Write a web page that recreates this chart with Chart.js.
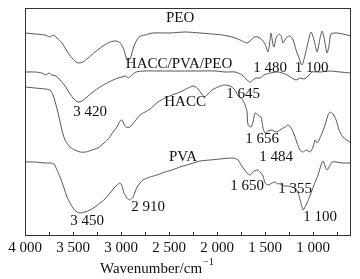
<!DOCTYPE html>
<html>
<head>
<meta charset="utf-8">
<script src="https://cdn.jsdelivr.net/npm/chart.js@4/dist/chart.umd.min.js"></script>
<style>
  body { margin: 0; background: #fff; }
  canvas { display: block; }
</style>
</head>
<body>
<canvas id="ftirChart" width="360" height="279"></canvas>
<script>
// wavenumbers (cm-1) and transmittance (a.u., curves stacked)
const peoWn = [4000, 3896, 3792, 3740, 3708, 3667, 3615, 3563, 3510, 3469, 3438, 3396, 3344, 3271, 3188, 3115, 3052, 3010, 2969, 2938, 2906, 2865, 2813, 2750, 2667, 2490, 2333, 2177, 2052, 1948, 1844, 1760, 1688, 1646, 1615, 1573, 1531, 1500, 1469, 1448, 1438, 1417, 1406, 1385, 1354, 1333, 1313, 1292, 1271, 1240, 1208, 1177, 1146, 1115, 1083, 1052, 1021, 990, 958, 927, 906, 885, 854, 833, 813, 760, 688, 605];
const peoT = [203, 202, 201, 199, 201, 198, 193, 185, 178, 174, 173, 174, 178, 184, 190, 194, 195, 193, 186, 176, 177, 190, 199, 201, 203, 203, 204, 203, 202, 201, 199, 196, 193, 196, 199, 199, 196, 192, 184, 196, 203, 191, 189, 198, 202, 200, 193, 196, 199, 200, 196, 186, 178, 171, 181, 194, 204, 196, 184, 198, 205, 198, 183, 191, 202, 203, 202, 200];

const blendWn = [4000, 3896, 3823, 3781, 3750, 3719, 3677, 3635, 3583, 3531, 3490, 3448, 3406, 3354, 3292, 3219, 3146, 3083, 3031, 2990, 2948, 2927, 2896, 2844, 2750, 2594, 2385, 2177, 2021, 1917, 1813, 1740, 1688, 1656, 1625, 1594, 1552, 1510, 1448, 1365, 1292, 1219, 1177, 1135, 1094, 1052, 1010, 927, 823, 719, 605];
const blendT = [164, 164, 163, 161, 163, 161, 160, 156, 150, 142, 137, 134, 135, 139, 144, 149, 153, 156, 158, 159, 160, 158, 160, 164, 165, 165, 165, 165, 165, 164, 164, 161, 156, 154, 156, 158, 158, 161, 163, 164, 162, 158, 156, 158, 157, 160, 164, 164, 165, 164, 163];

const haccWn = [4000, 3896, 3792, 3740, 3708, 3677, 3646, 3615, 3583, 3531, 3479, 3427, 3365, 3302, 3240, 3177, 3125, 3083, 3042, 3010, 2990, 2969, 2948, 2906, 2854, 2802, 2750, 2698, 2615, 2542, 2469, 2385, 2302, 2250, 2208, 2167, 2135, 2104, 2052, 1990, 1927, 1865, 1813, 1781, 1740, 1708, 1688, 1677, 1646, 1625, 1604, 1573, 1542, 1521, 1500, 1469, 1427, 1385, 1344, 1292, 1260, 1229, 1198, 1167, 1135, 1104, 1073, 1031, 1000, 979, 958, 938, 906, 875, 844, 823, 792, 760, 729, 688, 605];
const haccT = [149, 148, 147, 146, 141, 131, 119, 106, 96, 89, 86, 84, 84, 86, 88, 93, 98, 104, 109, 115, 116, 112, 109, 109, 115, 121, 124, 127, 134, 138, 141, 144, 148, 150, 148, 143, 139, 141, 146, 149, 151, 150, 146, 140, 137, 131, 124, 111, 109, 114, 123, 121, 119, 108, 103, 105, 106, 104, 106, 109, 111, 108, 102, 93, 86, 84, 86, 84, 89, 96, 93, 96, 103, 111, 121, 124, 122, 116, 106, 99, 93];

const pvaWn = [4000, 3896, 3792, 3740, 3698, 3667, 3635, 3594, 3563, 3531, 3500, 3458, 3427, 3375, 3323, 3271, 3219, 3167, 3115, 3073, 3042, 3010, 2990, 2969, 2938, 2906, 2875, 2854, 2833, 2802, 2771, 2698, 2625, 2542, 2469, 2385, 2281, 2177, 2073, 1969, 1833, 1781, 1750, 1719, 1688, 1656, 1625, 1583, 1552, 1521, 1500, 1469, 1427, 1396, 1365, 1333, 1302, 1260, 1219, 1188, 1156, 1135, 1115, 1104, 1073, 1042, 1010, 979, 948, 917, 896, 875, 854, 833, 802, 760, 698, 605];
const pvaT = [74, 74, 73, 73, 72, 66, 59, 48, 39, 33, 28, 24, 23, 24, 26, 29, 33, 37, 43, 48, 51, 53, 50, 43, 38, 36, 39, 44, 49, 53, 56, 59, 61, 64, 66, 69, 72, 75, 76, 77, 78, 76, 71, 67, 63, 61, 64, 66, 64, 60, 53, 51, 53, 54, 52, 53, 50, 50, 49, 48, 43, 36, 29, 26, 31, 38, 46, 54, 61, 71, 75, 70, 66, 69, 74, 74, 73, 73];

// x axis ticks
const tickValues = [4000, 3750, 3500, 3250, 3000, 2750, 2500, 2250, 2000, 1750, 1500, 1250, 1000, 750];

// text placed in the plot: [text, wavenumber, transmittance]
const labels = [
  ["PEO", 2385, 218],
  ["HACC/PVA/PEO", 2396, 172],
  ["1 480", 1448, 168],
  ["1 100", 1016, 168],
  ["3 420", 3323, 124],
  ["1 645", 1729, 142],
  ["HACC", 2333, 134],
  ["1 656", 1531, 97],
  ["1 484", 1385, 79],
  ["PVA", 2354, 79],
  ["3 450", 3354, 15],
  ["2 910", 2719, 29],
  ["1 650", 1687, 50],
  ["1 355", 1187, 47],
  ["1 100", 927, 19]
];

const FONT = "'Liberation Serif', 'Times New Roman', serif";

function toPoints(wn, t) {
  return wn.map((w, i) => ({ x: w, y: t[i] }));
}

function fmt(v) {
  return v >= 1000 ? Math.floor(v / 1000) + " " + String(v % 1000).padStart(3, "0") : String(v);
}

function makeSet(wn, t) {
  return {
    data: toPoints(wn, t),
    borderColor: "#555",
    borderWidth: 1,
    pointRadius: 0,
    tension: 0.25,
    fill: false
  };
}

const decor = {
  id: "decor",
  afterDraw(chart) {
    const ctx = chart.ctx;
    const a = chart.chartArea;
    const xs = chart.scales.x;
    const ys = chart.scales.y;
    ctx.save();
    // frame
    ctx.strokeStyle = "#333";
    ctx.lineWidth = 1;
    ctx.strokeRect(a.left + 0.5, a.top + 0.5, a.right - a.left - 1, a.bottom - a.top - 1);
    // inward ticks
    ctx.beginPath();
    xs.ticks.forEach((t) => {
      const px = Math.round(xs.getPixelForValue(t.value)) + 0.5;
      ctx.moveTo(px, a.bottom);
      ctx.lineTo(px, a.bottom - 4);
    });
    ctx.stroke();
    // annotations
    ctx.fillStyle = "#111";
    ctx.font = "15px " + FONT;
    ctx.textAlign = "center";
    ctx.textBaseline = "middle";
    labels.forEach(([txt, w, t]) => {
      ctx.fillText(txt, xs.getPixelForValue(w), ys.getPixelForValue(t));
    });
    // axis title with superscript
    ctx.textAlign = "left";
    ctx.textBaseline = "alphabetic";
    const title = "Wavenumber/cm";
    const tx = a.left + 75;
    ctx.fillText(title, tx, 273);
    const tw = ctx.measureText(title).width;
    ctx.font = "10px " + FONT;
    ctx.fillText("\u22121", tx + tw + 1, 265);
    ctx.restore();
  }
};

new Chart(document.getElementById("ftirChart"), {
  type: "line",
  data: {
    datasets: [
      makeSet(peoWn, peoT),
      makeSet(blendWn, blendT),
      makeSet(haccWn, haccT),
      makeSet(pvaWn, pvaT)
    ]
  },
  options: {
    responsive: false,
    animation: false,
    layout: { padding: { left: 25, right: 9, top: 8, bottom: 0 } },
    plugins: { legend: { display: false }, tooltip: { enabled: false } },
    scales: {
      x: {
        type: "linear",
        reverse: true,
        min: 605,
        max: 4000,
        afterBuildTicks: (s) => { s.ticks = tickValues.map((v) => ({ value: v })); },
        afterFit: (s) => { s.height = 43; },
        grid: { display: false, drawTicks: false },
        border: { display: false },
        ticks: {
          autoSkip: false,
          maxRotation: 0,
          padding: 3,
          color: "#111",
          font: { family: FONT, size: 15 },
          callback: (v) => (v % 500 === 0 ? fmt(v) : "")
        }
      },
      y: {
        display: false,
        min: 0,
        max: 228
      }
    }
  },
  plugins: [decor]
});
</script>
</body>
</html>
